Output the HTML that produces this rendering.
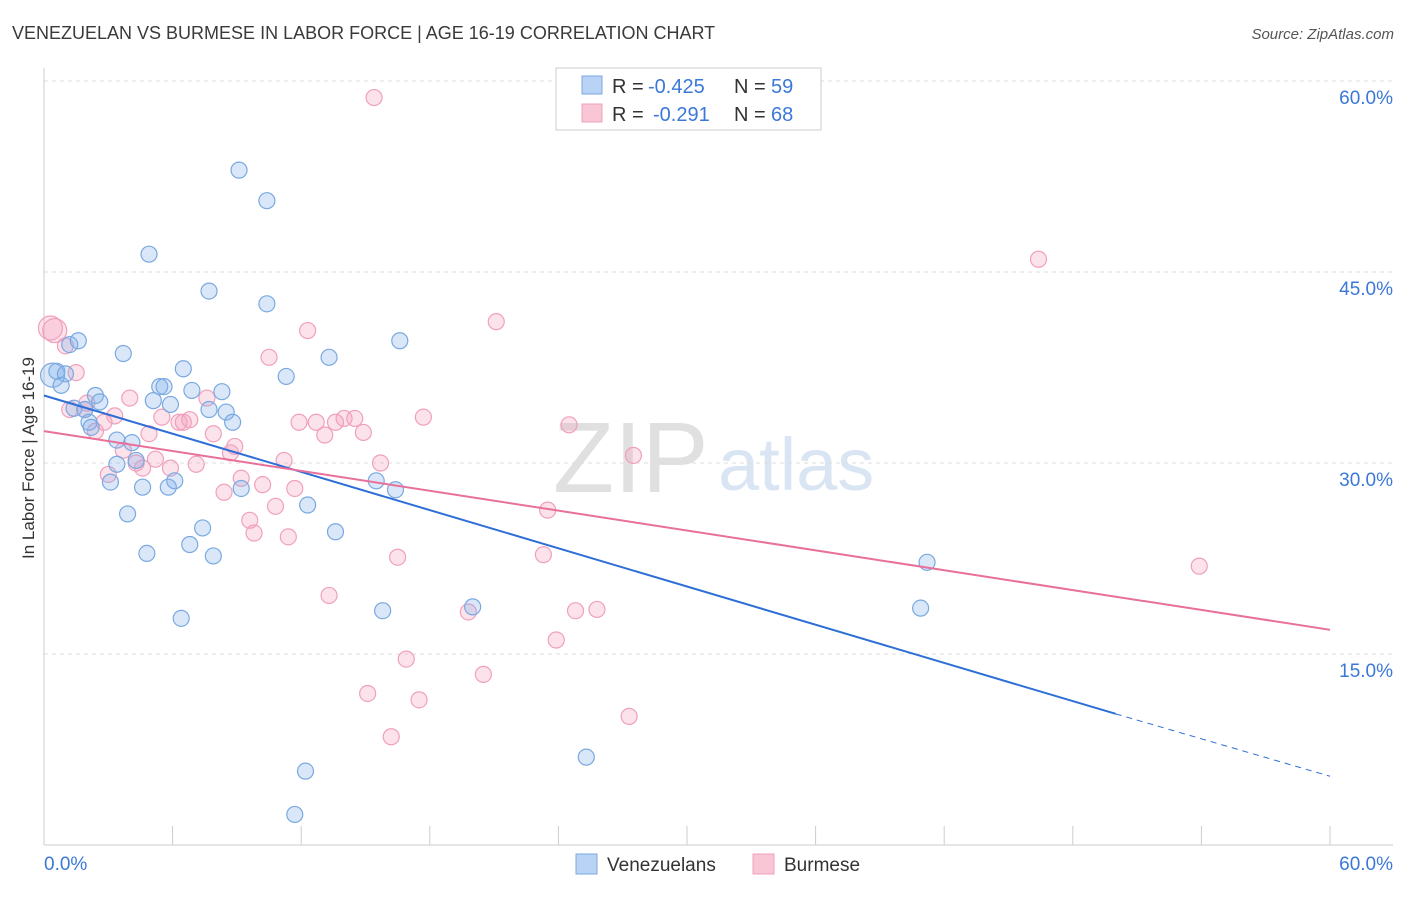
<!DOCTYPE html>
<html><head><meta charset="utf-8"><style>
body{margin:0;background:#fff;font-family:"Liberation Sans",sans-serif}
svg text{font-family:"Liberation Sans",sans-serif}
</style></head><body>
<svg width="1406" height="892" id="chart">
<text x="12" y="39" font-size="18" fill="#3a3a3a">VENEZUELAN VS BURMESE IN LABOR FORCE | AGE 16-19 CORRELATION CHART</text>
<text x="1394" y="39" font-size="15" fill="#555" text-anchor="end" font-style="italic">Source: ZipAtlas.com</text>
<text x="553" y="492" font-size="100" fill="#e0e0e0" font-family="Liberation Serif">ZIP</text>
<text x="718" y="490" font-size="74" fill="#dae5f3">atlas</text>
<g id="grid"></g>
<g id="axes"></g>
<g id="pts"></g>
<g id="lines"></g>
<text x="34" y="458" font-size="17" fill="#333" text-anchor="middle" transform="rotate(-90 34 458)">In Labor Force | Age 16-19</text>
<g>
<rect x="556" y="68" width="265" height="62" fill="#fff" stroke="#ccc"/>
<rect x="582" y="76" width="20" height="18" fill="#b8d3f5" stroke="#7aa9e0"/>
<rect x="582" y="104" width="20" height="18" fill="#f9c6d6" stroke="#f0a0bc"/>
<text x="612" y="93" font-size="20" fill="#333">R =</text>
<text x="648" y="93" font-size="20" fill="#3b78d8">-0.425</text>
<text x="734" y="93" font-size="20" fill="#333">N =</text>
<text x="771" y="93" font-size="20" fill="#3b78d8">59</text>
<text x="612" y="121" font-size="20" fill="#333">R =</text>
<text x="653" y="121" font-size="20" fill="#3b78d8">-0.291</text>
<text x="734" y="121" font-size="20" fill="#333">N =</text>
<text x="771" y="121" font-size="20" fill="#3b78d8">68</text>
</g>
<g>
<rect x="576" y="854" width="21" height="20" fill="#b8d3f5" stroke="#7aa9e0"/>
<text x="607" y="871" font-size="19" fill="#333">Venezuelans</text>
<rect x="753" y="854" width="21" height="20" fill="#f9c6d6" stroke="#f0a0bc"/>
<text x="784" y="871" font-size="19" fill="#333">Burmese</text>
</g>
</svg>
<script>
const yTicks=[15,30,45,60];
const xTickLabels=["0.0%","60.0%"];
const venX=[0.4,0.6,0.8,1.0,1.2,1.6,1.4,1.9,2.1,2.2,2.4,2.6,3.4,3.4,3.1,3.7,3.9,4.1,4.3,4.6,4.8,4.9,5.1,5.4,5.6,5.8,5.9,6.1,6.4,6.5,6.8,6.9,7.4,7.7,7.7,7.9,8.3,8.5,8.8,9.1,9.2,10.4,10.4,11.3,12.2,11.7,12.3,13.3,13.6,15.5,15.8,16.4,16.6,20.0,25.3,40.9,41.2];
const venY=[36.9,37.2,36.1,37.0,39.3,39.6,34.3,34.2,33.2,32.8,35.3,34.8,31.8,29.9,28.5,38.6,26.0,31.6,30.2,28.1,22.9,46.4,34.9,36.0,36.0,28.1,34.6,28.6,17.8,37.4,23.6,35.7,24.9,43.5,34.2,22.7,35.6,34.0,33.2,53.0,28.0,50.6,42.5,36.8,5.8,2.4,26.7,38.3,24.6,28.6,18.4,27.9,39.6,18.7,6.9,18.6,22.2];
const burX=[0.3,0.5,1.0,1.2,1.5,1.9,2.0,2.4,2.8,3.0,3.3,3.7,4.0,4.3,4.6,4.9,5.2,5.5,5.9,6.3,6.5,6.8,7.1,7.6,7.9,8.4,8.7,8.9,9.2,9.6,9.8,10.2,10.5,10.8,11.2,11.4,11.7,11.9,12.3,12.7,13.1,13.3,13.6,14.0,14.5,14.9,15.1,15.4,15.7,16.2,16.5,16.9,17.5,17.7,19.8,20.5,21.1,23.5,23.3,23.9,24.5,24.8,25.8,27.3,27.5,46.4,53.9];
const burY=[40.6,40.4,39.2,34.2,37.1,34.2,34.7,32.5,33.2,29.1,33.7,31.0,35.1,30.0,29.6,32.3,30.3,33.6,29.6,33.2,33.2,33.4,29.9,35.1,32.3,27.7,30.8,31.3,28.8,25.5,24.5,28.3,38.3,26.6,30.2,24.2,28.0,33.2,40.4,33.2,32.2,19.6,33.2,33.5,33.5,32.4,11.9,58.7,30.0,8.5,22.6,14.6,11.4,33.6,18.3,13.4,41.1,26.3,22.8,16.1,33.0,18.4,18.5,10.1,30.6,46.0,21.9];
const venLine=[35.3,10.3,5.4],burLine=[32.5,16.9];
const X=v=>44+v/60*1286, Y=v=>845-v/15*191;
const NS="http://www.w3.org/2000/svg";
function mk(p,t,a){const e=document.createElementNS(NS,t);for(const k in a)e.setAttribute(k,a[k]);document.getElementById(p).appendChild(e);return e;}
yTicks.forEach(t=>{
 const l=mk('grid','line',{x1:44,x2:1393,y1:Y(t),y2:Y(t),stroke:'#ddd','stroke-dasharray':'4 4'});
 
 
 const tx=mk('grid','text',{x:1393,y:Y(t)+23,'font-size':19,fill:'#3b78d8','text-anchor':'end'});
 tx.textContent=t.toFixed(1)+'%';
 
 
});
mk('axes','line',{x1:44,x2:44,y1:68,y2:845,stroke:'#ccc'});
mk('axes','line',{x1:44,x2:1393,y1:845,y2:845,stroke:'#ccc'});
for(let i=0;i<=10;i++){const l=mk('axes','line',{x1:X(i*6),x2:X(i*6),y1:826,y2:845,stroke:'#ccc'});
 
 }
[[44,'start',0],[1393,'end',1]].forEach(([x,a,i])=>{const t=mk('axes','text',{x:x,y:870,'font-size':19,fill:'#3b78d8','text-anchor':a});t.textContent=xTickLabels[i];
 
 });
burX.forEach((x,i)=>{const c=mk('pts','circle',{cx:X(x),cy:Y(burY[i]),r:i<2?12:8,fill:'rgba(245,160,190,0.3)',stroke:'#f0a0bc','stroke-width':1.2});
 
 });
venX.forEach((x,i)=>{const c=mk('pts','circle',{cx:X(x),cy:Y(venY[i]),r:i<1?12:8,fill:'rgba(130,175,235,0.3)',stroke:'#7aa9e0','stroke-width':1.2});
 
 });
let l1=mk('lines','line',{x1:X(0),y1:Y(venLine[0]),x2:X(50),y2:Y(venLine[1]),stroke:'#2d6fd6','stroke-width':2});


let l2=mk('lines','line',{x1:X(50),y1:Y(venLine[1]),x2:X(60),y2:Y(venLine[2]),stroke:'#2d6fd6','stroke-width':1,'stroke-dasharray':'6 5'});


let l3=mk('lines','line',{x1:X(0),y1:Y(burLine[0]),x2:X(60),y2:Y(burLine[1]),stroke:'#e8709a','stroke-width':2});


</script>
</body></html>
